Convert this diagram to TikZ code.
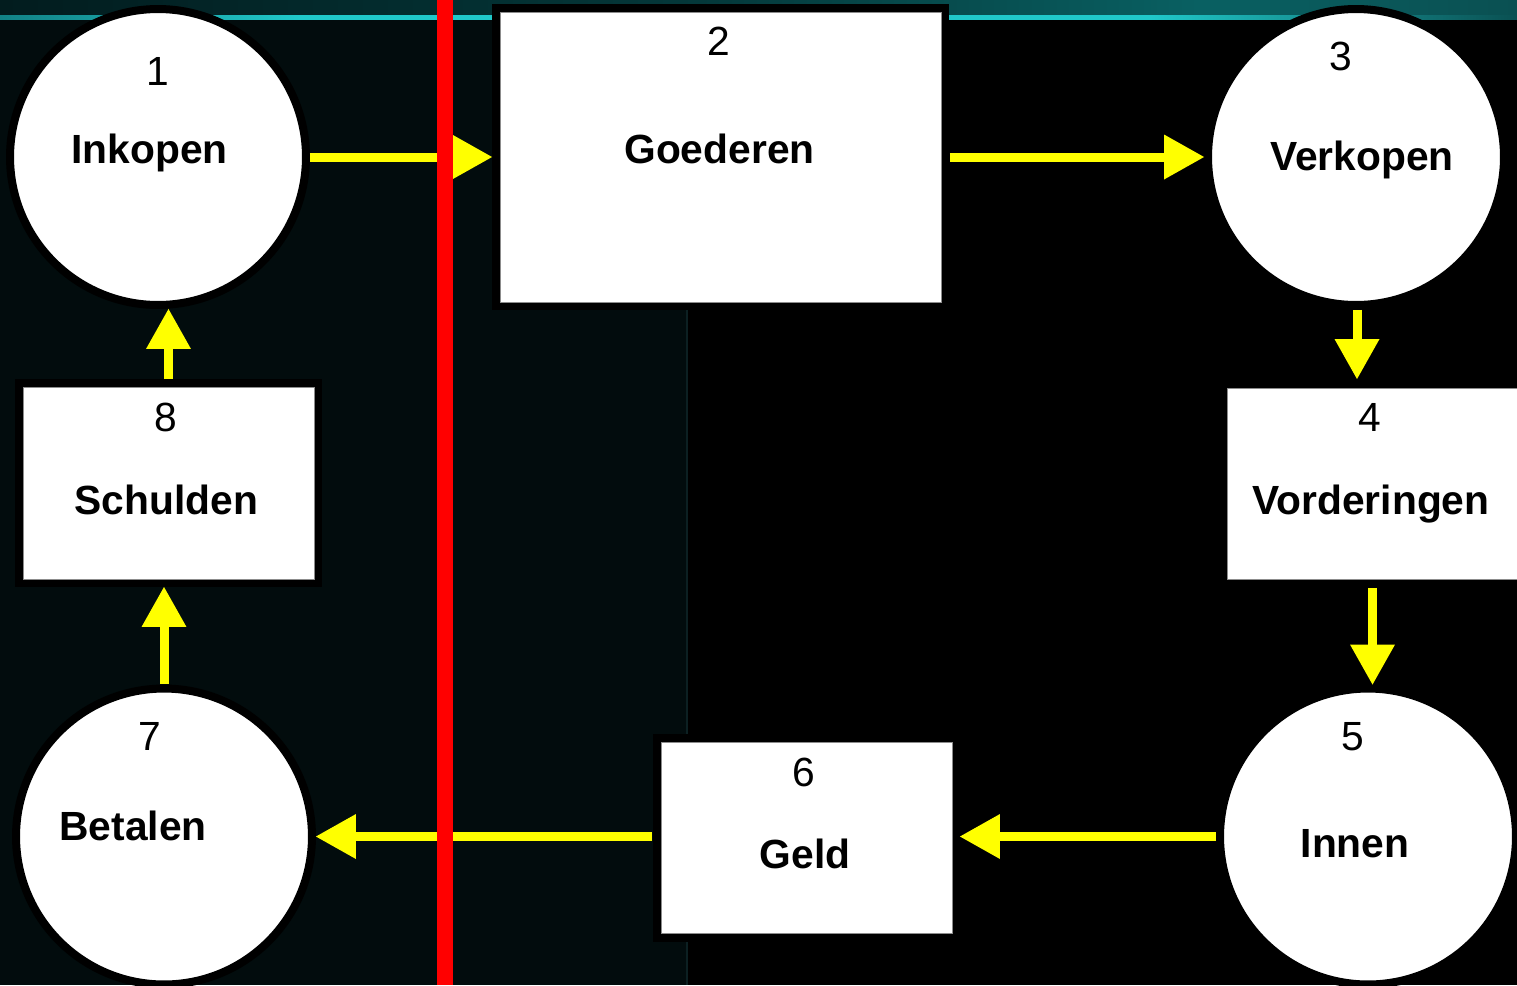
\documentclass[tikz,border=0pt]{standalone}
\usepackage{fontspec}
\setmainfont{Liberation Sans}
\usetikzlibrary{arrows.meta,calc}
\definecolor{bgteal}{RGB}{2,12,13}
\definecolor{seam}{RGB}{12,32,34}
\definecolor{flowyellow}{RGB}{255,255,0}
\definecolor{glowdark}{RGB}{2,28,30}
\definecolor{glowmid}{RGB}{4,56,58}
\definecolor{glowlight}{RGB}{9,96,98}
\definecolor{glowend}{RGB}{10,80,82}
\definecolor{glowline}{RGB}{32,200,202}
\definecolor{glowlinedim}{RGB}{18,130,134}
\begin{document}
\begin{tikzpicture}[x=0.02cm,y=-0.02cm,
  circ/.style={circle, draw=black, line width=0.16cm, fill=white,
    minimum size=5.92cm, inner sep=0pt},
  boxnode/.style={rectangle, fill=white, draw=black!45, line width=0.4pt,
    outer sep=0pt, inner sep=0pt, preaction={draw=black, line width=0.34cm}},
  num/.style={anchor=base, inner sep=0pt, font=\fontsize{23.2pt}{28pt}\selectfont},
  word/.style={anchor=base, inner sep=0pt, font=\fontsize{23.2pt}{28pt}\selectfont\bfseries},
  flow/.style={draw=flowyellow, line width=0.18cm,
    -{Triangle[length=0.8cm,width=0.9cm,line width=0pt]}},
]
\useasboundingbox (0,0) rectangle (1517,985);

% backdrop: dark teal panel on the left, black on the right
\fill[black] (0,0) rectangle (1517,985);
\fill[bgteal] (0,0) rectangle (688,985);
\draw[seam, line width=0.04cm] (687,0) -- (687,985);

% glowing band along the top edge
\shade[left color=glowdark, right color=glowmid] (0,0) rectangle (700,16);
\shade[left color=glowmid, right color=glowlight] (700,0) rectangle (1200,17);
\shade[left color=glowlight, right color=glowend] (1200,0) rectangle (1517,18);
\shade[left color=glowlinedim, right color=glowline] (0,15) rectangle (300,19);
\shade[left color=glowline, right color=glowline] (300,15) rectangle (1150,19);
\shade[left color=glowline, right color=glowend] (1150,15) rectangle (1517,19);

% stations of the cycle
\node[circ] (c1) at (158,157) {};
\node[boxnode, minimum width=8.82cm, minimum height=5.8cm] (b2) at (720.5,157) {};
\node[circ] (c3) at (1356,157) {};
\node[boxnode, minimum width=5.82cm, minimum height=3.82cm] (b4) at (1372.5,483.5) {};
\node[circ] (c5) at (1368,836.5) {};
\node[boxnode, minimum width=5.82cm, minimum height=3.82cm] (b6) at (806.5,837.5) {};
\node[circ] (c7) at (164,836.5) {};
\node[boxnode, minimum width=5.82cm, minimum height=3.84cm] (b8) at (168.5,483) {};

% numbers and names
\node[num] (n1) at (158,85) {1};
\node[word] (w1) at (149.5,163) {Inkopen};
\node[num] (n2) at (719,55) {2};
\node[word] (w2) at (719.5,163) {Goederen};
\node[num] (n3) at (1341,70) {3};
\node[word] (w3) at (1362,170) {Verkopen};
\node[num] (n4) at (1370,431) {4};
\node[word] (w4) at (1371,514) {Vorderingen};
\node[num] (n5) at (1353,750) {5};
\node[word] (w5) at (1355,857) {Innen};
\node[num] (n6) at (804,786) {6};
\node[word] (w6) at (805,868) {Geld};
\node[num] (n7) at (150,750) {7};
\node[word] (w7) at (133,840) {Betalen};
\node[num] (n8) at (166,431) {8};
\node[word] (w8) at (166.5,514) {Schulden};

% flow of goods and money
\draw[flow] (c1.east) -- ($(b2.west)+(-8,0)$);
\draw[flow] ($(b2.east)+(9,0)$) -- (c3.west);
\draw[flow] ($(c3.south)+(1,1)$) -- ($(c3.south |- b4.north)+(1,-9)$);
\draw[flow] ($(b4.south)+(0,9)$) -- (b4.south |- c5.north);
\draw[flow] (c5.west) -- ($(c5.west -| b6.east)+(8,0)$);
\draw[flow] ($(c7.east -| b6.west)+(-9,0)$) -- (c7.east);
\draw[flow] ($(c7.north)+(0,-1)$) -- ($(c7.north |- b8.south)+(0,8)$);
\draw[flow] ($(b8.north)+(0,-8)$) -- (b8.north |- c1.south);

% dividing line
\coordinate (rtop) at (445,0);
\coordinate (rbot) at (445,985);
\draw[red, line width=0.32cm] (rtop) -- (rbot);
\end{tikzpicture}
\end{document}
